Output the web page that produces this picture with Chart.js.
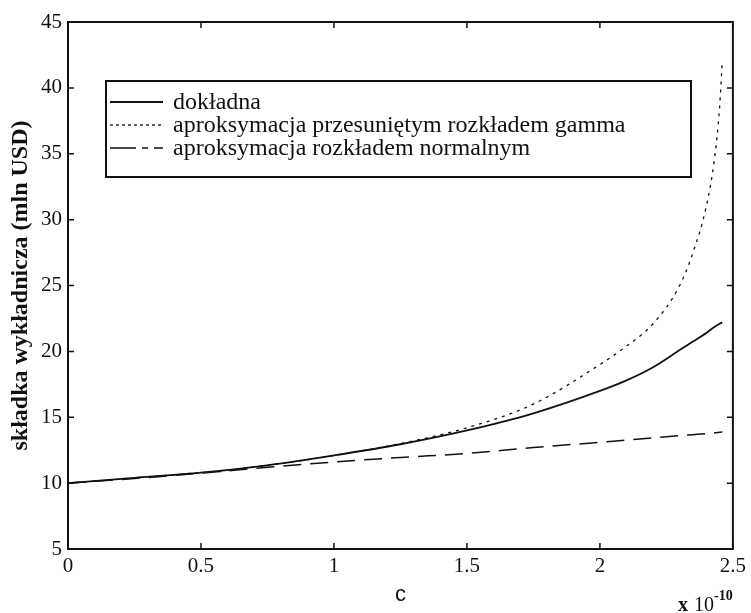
<!DOCTYPE html>
<html>
<head>
<meta charset="utf-8">
<script src="https://cdn.jsdelivr.net/npm/chart.js@4.4.1/dist/chart.umd.min.js"></script>
<style>
  html, body { margin: 0; padding: 0; background: #fff; }
  #wrap { width: 751px; height: 613px; }
</style>
</head>
<body>
<div id="wrap"><canvas id="premChart" width="751" height="613"></canvas></div>
<script>
// values (c in units of 1e-10, premium in mln USD)
const cValues = [0, 0.25, 0.5, 0.75, 1.0, 1.25, 1.5, 1.75, 2.0, 2.1, 2.2, 2.3, 2.35, 2.4, 2.43, 2.45, 2.46];
const exactValues = [10, 10.4, 10.8, 11.35, 12.1, 12.95, 14.0, 15.3, 17.0, 17.8, 18.8, 20.1, 20.75, 21.4, 21.85, 22.1, 22.2];
const gammaValues = [10, 10.4, 10.8, 11.35, 12.1, 13.0, 14.2, 16.0, 19.0, 20.4, 22.1, 25.0, 27.5, 31.0, 34.5, 38.5, 42.0];
const normalValues = [10, 10.35, 10.75, 11.2, 11.6, 11.95, 12.25, 12.7, 13.1, 13.27, 13.43, 13.6, 13.68, 13.76, 13.82, 13.86, 13.9];
const seriesLabels = ['dokładna', 'aproksymacja przesuniętym rozkładem gamma', 'aproksymacja rozkładem normalnym'];
const xTitle = 'c';
const yTitle = 'składka wykładnicza (mln USD)';

const ink = '#111';
const serif = '"Liberation Serif", "Times New Roman", serif';

const toPoints = (ys) => cValues.map((c, i) => ({ x: c, y: ys[i] }));

// frame, inward ticks, legend box and the exponent note
const decorations = {
    id: 'decorations',
    afterDraw(chart) {
        const { ctx, chartArea: a, scales } = chart;
        ctx.save();
        ctx.strokeStyle = ink;
        ctx.lineWidth = 2;
        ctx.strokeRect(a.left, a.top, a.right - a.left, a.bottom - a.top);

        const tl = 6;
        ctx.beginPath();
        scales.x.ticks.forEach(t => {
            const px = scales.x.getPixelForValue(t.value);
            ctx.moveTo(px, a.bottom); ctx.lineTo(px, a.bottom - tl);
            ctx.moveTo(px, a.top); ctx.lineTo(px, a.top + tl);
        });
        scales.y.ticks.forEach(t => {
            const py = scales.y.getPixelForValue(t.value);
            ctx.moveTo(a.left, py); ctx.lineTo(a.left + tl, py);
            ctx.moveTo(a.right, py); ctx.lineTo(a.right - tl, py);
        });
        ctx.lineWidth = 1.5;
        ctx.stroke();

        // legend
        const box = { x: 106, y: 81, w: 585, h: 96 };
        ctx.fillStyle = '#fff';
        ctx.fillRect(box.x, box.y, box.w, box.h);
        ctx.lineWidth = 2;
        ctx.strokeRect(box.x, box.y, box.w, box.h);
        const rows = [102, 125, 148];
        ctx.font = '24px ' + serif;
        ctx.textBaseline = 'middle';
        ctx.fillStyle = ink;
        chart.data.datasets.forEach((ds, i) => {
            ctx.beginPath();
            ctx.setLineDash(ds.legendDash || []);
            ctx.lineWidth = ds.borderWidth;
            ctx.moveTo(110, rows[i]);
            ctx.lineTo(163, rows[i]);
            ctx.stroke();
            ctx.setLineDash([]);
            ctx.fillText(ds.label, 173, rows[i] + 1);
        });

        // x 10^-10
        ctx.textBaseline = 'alphabetic';
        ctx.font = 'bold 20px ' + serif;
        ctx.fillText('x', 678, 611);
        ctx.font = '20px ' + serif;
        ctx.fillText('10', 694, 611);
        ctx.font = 'bold 14px ' + serif;
        ctx.fillText('-10', 714, 600);
        ctx.restore();
    }
};

window.addEventListener('DOMContentLoaded', () => {
    const ctx = document.getElementById('premChart');
    new Chart(ctx, {
        type: 'line',
        data: {
            datasets: [
                {
                    label: seriesLabels[0],
                    data: toPoints(exactValues),
                    borderColor: ink,
                    borderWidth: 1.8,
                    legendDash: []
                },
                {
                    label: seriesLabels[1],
                    data: toPoints(gammaValues),
                    borderColor: ink,
                    borderWidth: 1.3,
                    borderDash: [3, 5],
                    legendDash: [3, 3]
                },
                {
                    label: seriesLabels[2],
                    data: toPoints(normalValues),
                    borderColor: ink,
                    borderWidth: 1.5,
                    borderDash: [18, 9],
                    legendDash: [26, 6, 6, 6]
                }
            ]
        },
        options: {
            responsive: false,
            animation: false,
            cubicInterpolationMode: 'monotone',
            elements: { point: { radius: 0 } },
            layout: { padding: { top: 22, right: 14, left: 0, bottom: 0 } },
            plugins: {
                legend: { display: false },
                tooltip: { enabled: false }
            },
            scales: {
                x: {
                    type: 'linear',
                    min: 0,
                    max: 2.5,
                    grid: { display: false, drawTicks: false },
                    border: { display: false },
                    ticks: {
                        stepSize: 0.5,
                        padding: 5,
                        color: ink,
                        maxRotation: 0,
                        font: { family: serif, size: 21 },
                        callback: (v) => String(Number(v.toFixed(1)))
                    },
                    title: {
                        display: true,
                        text: xTitle,
                        color: ink,
                        padding: { top: 0, bottom: 5 },
                        font: { family: '"Liberation Sans", Arial, sans-serif', size: 22 }
                    },
                    afterFit: (s) => { s.height = 64; }
                },
                y: {
                    min: 5,
                    max: 45,
                    grid: { display: false, drawTicks: false },
                    border: { display: false },
                    ticks: {
                        stepSize: 5,
                        padding: 6,
                        color: ink,
                        font: { family: serif, size: 21 }
                    },
                    title: {
                        display: true,
                        text: yTitle,
                        color: ink,
                        padding: { top: 6, bottom: 0 },
                        font: { family: serif, size: 24, weight: 'bold' }
                    },
                    afterFit: (s) => { s.width = 68; }
                }
            }
        },
        plugins: [decorations]
    });
});
</script>
</body>
</html>
